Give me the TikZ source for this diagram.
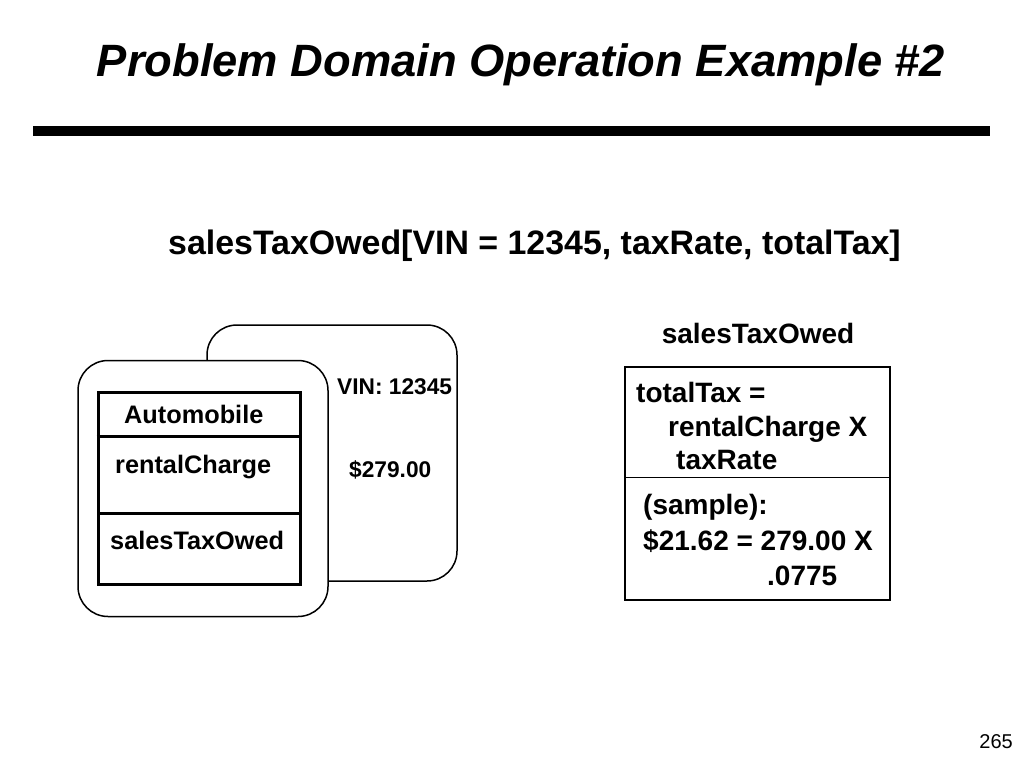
\documentclass[tikz,border=0pt]{standalone}
\usepackage{fontspec}
\setmainfont{Liberation Sans}
\usetikzlibrary{positioning}

\begin{document}
\begin{tikzpicture}[x=1pt, y=-1pt,
  card/.style={draw, line width=1.5pt, rounded corners=30pt, fill=white,
               minimum width=250pt, minimum height=256pt, inner sep=0pt},
  classbox/.style={draw, line width=3pt,
               minimum width=202pt, minimum height=192pt, inner sep=0pt},
  opbox/.style={draw, line width=1.2pt,
               minimum width=265pt, minimum height=233pt, inner sep=0pt},
  txt/.style={anchor=base west, inner sep=0pt, font=\fontsize{28}{33}\selectfont\bfseries},
  small/.style={anchor=base west, inner sep=0pt, font=\fontsize{25.3}{30}\selectfont\bfseries},
  tiny/.style={anchor=base west, inner sep=0pt, font=\fontsize{22.7}{27}\selectfont\bfseries}
]
  \useasboundingbox (0,0) rectangle (1024,768);
  \node[anchor=base, inner sep=0pt, font=\fontsize{45.3}{54}\selectfont\bfseries\itshape]
    (title) at (521,76) {Problem Domain Operation Example \#2};
  \draw[line width=10pt] (33,131) -- (990,131);
  \node[anchor=base west, inner sep=0pt, font=\fontsize{33.9}{40}\selectfont\bfseries]
    (call) at (168,254) {salesTaxOwed[VIN = 12345, taxRate, totalTax]};

  % object instance
  \node[card] (back) at (332,453) {};
  \node[card] (front) at (203,488.5) {};
  \node[classbox] (cls) at (199,488) {};
  \draw[line width=3pt] ([yshift=-46pt]cls.north west) -- ([yshift=-46pt]cls.north east);
  \draw[line width=3pt] ([xshift=3pt,yshift=-123pt]cls.north west) -- ([xshift=-3pt,yshift=-123pt]cls.north east);
  \node[small] (cname) at (124,423) {Automobile};
  \node[small] (attr) at (115,473) {rentalCharge};
  \node[small] (oper) at (110,549) {salesTaxOwed};
  \node[tiny] (vin) at (337,394) {VIN: 12345};
  \node[tiny] (amt) at (349,477) {\$279.00};

  % operation spec
  \node[txt, anchor=base] (opname) at (758,343) {salesTaxOwed};
  \node[opbox] (op) at (757.5,483.5) {};
  \draw[line width=1.2pt] ([yshift=-111pt]op.north west) -- ([yshift=-111pt]op.north east);
  \node[txt] (rule1) at (636,402) {totalTax =};
  \node[txt] (rule2) at (668,436) {rentalCharge X};
  \node[txt] (rule3) at (676,469) {taxRate};
  \node[txt] (ex1) at (643,514) {(sample):};
  \node[txt] (ex2) at (643,550) {\$21.62 = 279.00 X};
  \node[txt] (ex3) at (767,585) {.0775};

  \node[anchor=base east, inner sep=0pt, font=\fontsize{20}{24}\selectfont] (page) at (1013,748) {265};
\end{tikzpicture}
\end{document}
